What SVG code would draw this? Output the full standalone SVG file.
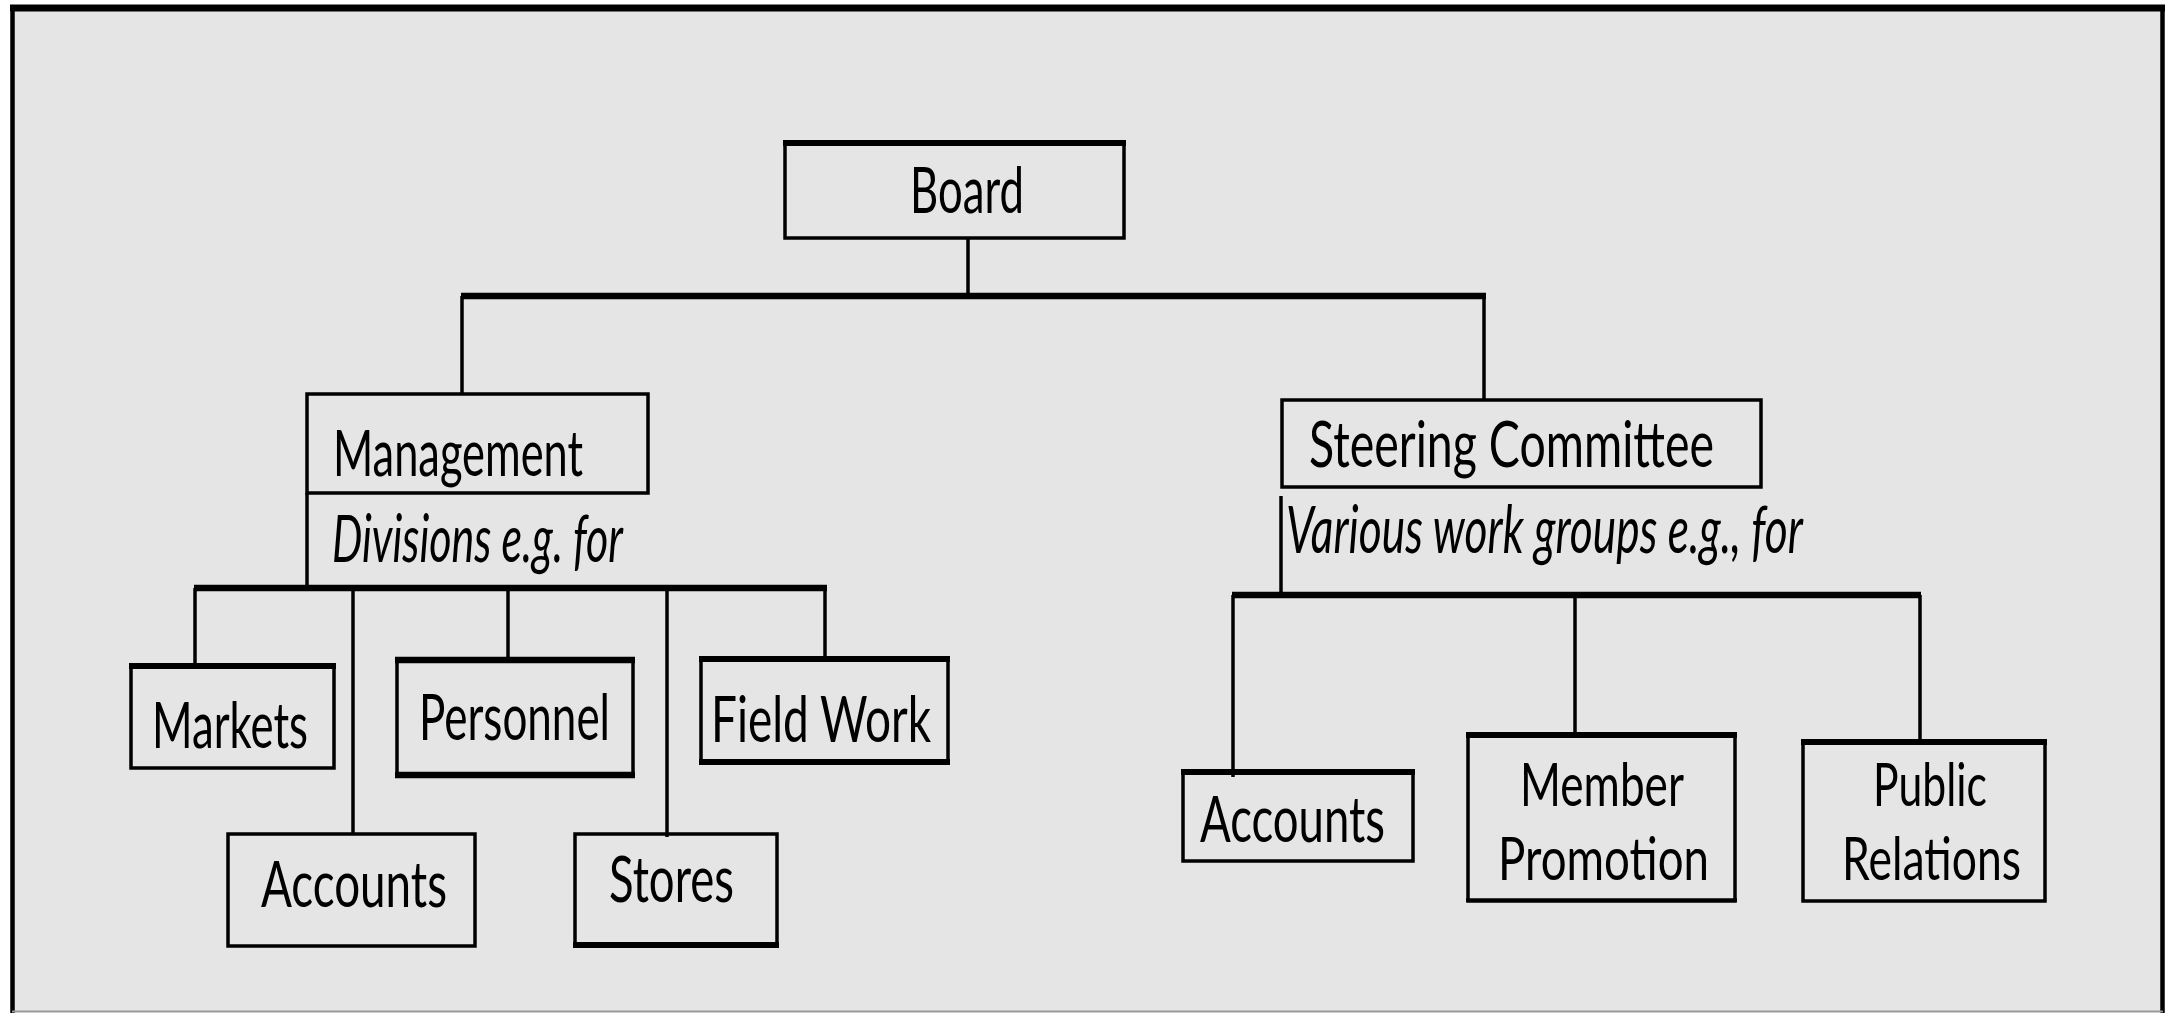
<svg xmlns="http://www.w3.org/2000/svg" width="2173" height="1013" viewBox="0 0 2173 1013">
<style>
.box{fill:none;stroke:#000;stroke-width:3.5}
.thick{stroke:#000;stroke-width:6;fill:none}
.ln{stroke:#000;stroke-width:3.5;fill:none}
.bar{stroke:#000;stroke-width:6.5;fill:none}
text{font-family:Lato,"Liberation Sans",sans-serif;font-size:64px;fill:#000}
.two{font-size:60px}
.it{font-style:italic;font-size:66px}
</style>
<rect x="0" y="0" width="2173" height="1013" fill="#fff"/>
<rect x="12" y="8" width="2151" height="1003" fill="#e5e5e5"/>
<line x1="10" y1="8" x2="2165" y2="8" stroke="#000" stroke-width="7"/>
<line x1="12.5" y1="5" x2="12.5" y2="1013" stroke="#000" stroke-width="4.5"/>
<line x1="2162.5" y1="5" x2="2162.5" y2="1013" stroke="#000" stroke-width="4.5"/>
<line x1="12" y1="1011.5" x2="2163" y2="1011.5" stroke="#999" stroke-width="2"/>

<g id="connectors">
<line class="ln" x1="968" y1="238" x2="968" y2="296"/>
<line class="bar" x1="461" y1="296" x2="1486" y2="296"/>
<line class="ln" x1="462" y1="296" x2="462" y2="393"/>
<line class="ln" x1="1484" y1="296" x2="1484" y2="399"/>
<line class="ln" x1="307" y1="493" x2="307" y2="588"/>
<line class="bar" x1="194" y1="588" x2="827" y2="588"/>
<line class="ln" x1="195" y1="588" x2="195" y2="664"/>
<line class="ln" x1="353" y1="588" x2="353" y2="833"/>
<line class="ln" x1="508" y1="588" x2="508" y2="657"/>
<line class="ln" x1="667" y1="588" x2="667" y2="837"/>
<line class="ln" x1="825" y1="588" x2="825" y2="657"/>
<line class="ln" x1="1281" y1="496" x2="1281" y2="595"/>
<line class="bar" x1="1232" y1="595" x2="1921" y2="595"/>
<line class="ln" x1="1233" y1="595" x2="1233" y2="777"/>
<line class="ln" x1="1575" y1="595" x2="1575" y2="733"/>
<line class="ln" x1="1920" y1="595" x2="1920" y2="740"/>
</g>

<g id="board">
<rect class="box" x="785" y="142" width="339" height="96"/>
<line class="thick" x1="783" y1="143" x2="1126" y2="143"/>
<text x="910" y="213" textLength="114" lengthAdjust="spacingAndGlyphs">Board</text>
</g>

<g id="management">
<rect class="box" x="307" y="394" width="341" height="99"/>
<text x="333" y="476" textLength="250" lengthAdjust="spacingAndGlyphs">Management</text>
<text class="it" x="332" y="562" textLength="291" lengthAdjust="spacingAndGlyphs">Divisions e.g. for</text>
</g>

<g id="steering">
<rect class="box" x="1282" y="400" width="479" height="87"/>
<text x="1309" y="467" textLength="405" lengthAdjust="spacingAndGlyphs">Steering Committee</text>
<text class="it" x="1286" y="553" textLength="517" lengthAdjust="spacingAndGlyphs">Various work groups e.g., for</text>
</g>

<g id="markets">
<rect class="box" x="131" y="665" width="203" height="103"/>
<line class="thick" x1="129" y1="666" x2="336" y2="666"/>
<text x="152" y="748" textLength="156" lengthAdjust="spacingAndGlyphs">Markets</text>
</g>

<g id="personnel">
<rect class="box" x="397" y="659" width="236" height="117"/>
<line class="bar" x1="395" y1="660" x2="635" y2="660"/>
<line class="bar" x1="395" y1="775" x2="635" y2="775"/>
<text x="419" y="740" textLength="191" lengthAdjust="spacingAndGlyphs">Personnel</text>
</g>

<g id="fieldwork">
<rect class="box" x="701" y="658" width="247" height="105"/>
<line class="thick" x1="699" y1="659" x2="950" y2="659"/>
<line class="thick" x1="699" y1="762" x2="950" y2="762"/>
<text x="711" y="742" textLength="220" lengthAdjust="spacingAndGlyphs">Field Work</text>
</g>

<g id="accounts-div">
<rect class="box" x="228" y="834" width="247" height="112"/>
<text x="261" y="907" textLength="186" lengthAdjust="spacingAndGlyphs">Accounts</text>
</g>

<g id="stores">
<rect class="box" x="575" y="834" width="202" height="112"/>
<line class="thick" x1="573" y1="945" x2="779" y2="945"/>
<text x="609" y="902" textLength="125" lengthAdjust="spacingAndGlyphs">Stores</text>
</g>

<g id="accounts-wg">
<rect class="box" x="1183" y="771" width="230" height="90"/>
<line class="thick" x1="1181" y1="772" x2="1415" y2="772"/>
<text x="1200" y="842" textLength="185" lengthAdjust="spacingAndGlyphs">Accounts</text>
</g>

<g id="member-promotion">
<rect class="box" x="1468" y="735" width="267" height="166"/>
<line class="thick" x1="1466" y1="735" x2="1737" y2="735"/>
<line class="ln" x1="1466" y1="900" x2="1737" y2="900"/>
<text class="two" x="1520" y="806" textLength="164" lengthAdjust="spacingAndGlyphs">Member</text>
<text class="two" x="1498" y="880" textLength="211" lengthAdjust="spacingAndGlyphs">Promotion</text>
</g>

<g id="public-relations">
<rect class="box" x="1803" y="742" width="242" height="159"/>
<line class="thick" x1="1801" y1="742" x2="2047" y2="742"/>
<text class="two" x="1873" y="806" textLength="114" lengthAdjust="spacingAndGlyphs">Public</text>
<text class="two" x="1842" y="880" textLength="179" lengthAdjust="spacingAndGlyphs">Relations</text>
</g>
</svg>
